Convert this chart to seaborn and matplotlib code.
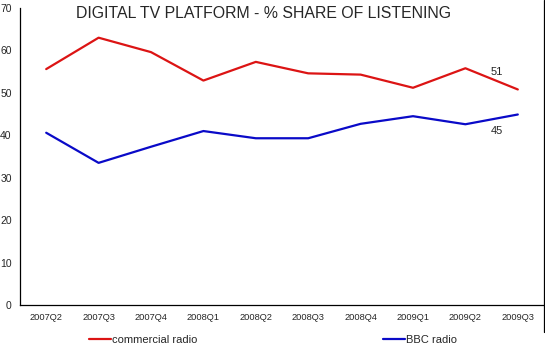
import matplotlib
matplotlib.use("Agg")
import matplotlib.pyplot as plt
import seaborn as sns
import pandas as pd
from matplotlib.lines import Line2D

quarters = ["2007Q2", "2007Q3", "2007Q4", "2008Q1", "2008Q2",
            "2008Q3", "2008Q4", "2009Q1", "2009Q2", "2009Q3"]
commercial = [55.6, 63.0, 59.6, 52.9, 57.3, 54.6, 54.3, 51.2, 55.8, 50.8]
bbc = [40.6, 33.5, 37.3, 41.0, 39.3, 39.3, 42.7, 44.5, 42.6, 44.9]
series_names = ["commercial radio", "BBC radio"]
end_labels = ["51", "45"]
y_ticks = [0, 10, 20, 30, 40, 50, 60, 70]

sns.set_theme(style="white")
plt.rcParams["font.family"] = ["Liberation Sans", "DejaVu Sans"]

df = pd.DataFrame({
    "idx": list(range(len(quarters))) * 2,
    "value": commercial + bbc,
    "series": [series_names[0]] * len(quarters) + [series_names[1]] * len(quarters),
})

fig = plt.figure(figsize=(5.45, 3.44), dpi=100)
ax = fig.add_axes([20 / 545, 1 - 305 / 344, 524 / 545, (305 - 8) / 344])

palette = {series_names[0]: "#dc1414", series_names[1]: "#0a0ac8"}
sns.lineplot(data=df, x="idx", y="value", hue="series", palette=palette,
             linewidth=1.6, ax=ax, legend=False)

ax.set_xlim(-0.5, len(quarters) - 0.5)
ax.set_ylim(0, 70)
ax.set_yticks(y_ticks)
ax.set_yticklabels([str(v) for v in y_ticks], fontsize=7.5)
ax.set_xticks([i - 0.5 for i in range(len(quarters) + 1)])
ax.set_xticklabels([])
ax.set_xticks(list(range(len(quarters))), minor=True)
ax.set_xticklabels(quarters, minor=True, fontsize=6.7)
ax.tick_params(axis="x", which="major", direction="out", length=4, width=0.8, color="black")
ax.tick_params(axis="x", which="minor", length=0, pad=6)
ax.tick_params(axis="y", direction="out", length=4, width=0.8, color="black", pad=2)
ax.set_xlabel("")
ax.set_ylabel("")
for s in ["top", "right"]:
    ax.spines[s].set_visible(False)
for s in ["left", "bottom"]:
    ax.spines[s].set_color("black")
    ax.spines[s].set_linewidth(0.9)

# end labels
last = len(quarters) - 1
ax.annotate(end_labels[0], (last, commercial[-1]), xytext=(-21, 17),
            textcoords="offset pixels", ha="center", va="center", fontsize=8)
ax.annotate(end_labels[1], (last, bbc[-1]), xytext=(-21, -17),
            textcoords="offset pixels", ha="center", va="center", fontsize=8)

fig.text(263 / 545, 1 - 14 / 344, "DIGITAL TV PLATFORM - % SHARE OF LISTENING",
         ha="center", va="center", fontsize=11.4)

# legend entries
h1 = Line2D([], [], color=palette[series_names[0]], linewidth=1.6)
h2 = Line2D([], [], color=palette[series_names[1]], linewidth=1.6)
leg1 = fig.legend([h1], [series_names[0]], loc="center left",
                  bbox_to_anchor=(89 / 545, 1 - 340 / 344), frameon=False,
                  fontsize=8, handlelength=2.0, handletextpad=0.1,
                  borderpad=0, borderaxespad=0)
leg2 = fig.legend([h2], [series_names[1]], loc="center left",
                  bbox_to_anchor=(383 / 545, 1 - 340 / 344), frameon=False,
                  fontsize=8, handlelength=2.0, handletextpad=0.1,
                  borderpad=0, borderaxespad=0)

# chart border at right
fig.add_artist(Line2D([543.5 / 545, 543.5 / 545], [1.0, 1 - 332 / 344],
                      transform=fig.transFigure, color="black", linewidth=0.9))

fig.savefig("out.png", dpi=100)
